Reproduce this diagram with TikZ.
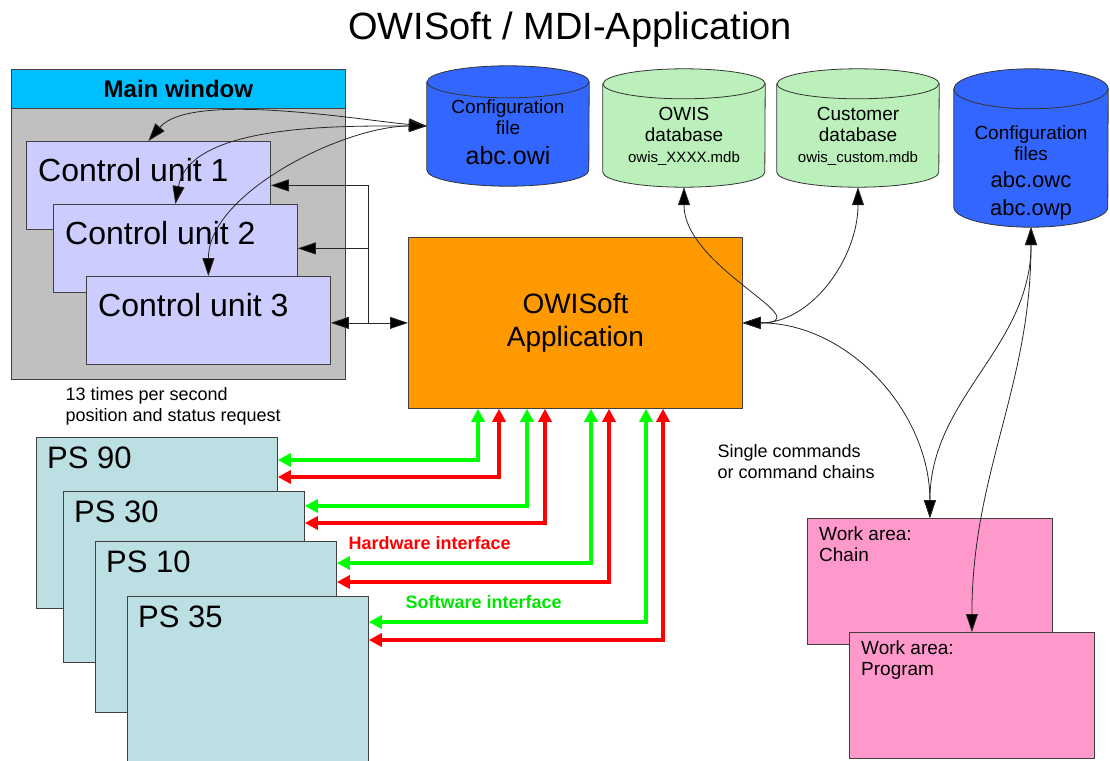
\documentclass[tikz,border=0pt]{standalone}
\usepackage{fontspec}
\setmainfont{Liberation Sans}
\usetikzlibrary{arrows.meta}

\definecolor{headcyan}{RGB}{0,191,255}
\definecolor{mwgray}{RGB}{192,192,192}
\definecolor{unitblue}{RGB}{204,204,255}
\definecolor{drumblue}{RGB}{51,102,255}
\definecolor{drumgreen}{RGB}{187,240,187}
\definecolor{apporange}{RGB}{255,153,0}
\definecolor{psteal}{RGB}{187,223,227}
\definecolor{workpink}{RGB}{255,153,204}
\definecolor{swgreen}{RGB}{0,255,0}
\definecolor{hwred}{RGB}{255,0,0}

\tikzset{
  box/.style={draw=black!75, line width=0.8pt, anchor=north west, inner sep=0pt},
  unit/.style={box, fill=unitblue, minimum width=244, minimum height=88},
  ps/.style={box, fill=psteal, minimum width=241, minimum height=171},
  work/.style={box, fill=workpink, minimum width=245, minimum height=126},
  tl/.style={anchor=north west, inner sep=0pt, align=left},
  drum/.style={inner sep=0pt},
  dbtext/.style={align=center, inner sep=0pt, font=\fontsize{19}{21}\selectfont},
  link/.style={black!85, line width=0.8pt, {Triangle[length=18pt,width=12pt,fill=black]}-{Triangle[length=18pt,width=12pt,fill=black]}},
  feed/.style={black!85, line width=0.8pt, -{Triangle[length=18pt,width=12pt,fill=black]}},
  sw/.style={swgreen, line width=4pt, {Triangle[length=13pt,width=13pt]}-{Triangle[length=13pt,width=13pt]}},
  hw/.style={hwred, line width=4pt, {Triangle[length=13pt,width=13pt]}-{Triangle[length=13pt,width=13pt]}}
}

% cylinder round an empty node: name, x radius, y radius, fill
\newcommand\drum[4]{%
  \filldraw[draw=black!80, line width=0.8pt, fill=#4] ([yshift=-#3]#1.north west) -- ([yshift=#3]#1.south west)
    arc[start angle=180, end angle=360, x radius=#2, y radius=#3]
    -- ([yshift=-#3]#1.north east)
    arc[start angle=0, end angle=180, x radius=#2, y radius=#3] -- cycle;
  \draw[black!80, line width=0.8pt] ([yshift=-#3]#1.north west)
    arc[start angle=180, end angle=360, x radius=#2, y radius=#3];
}

\begin{document}
\begin{tikzpicture}[x=1pt, y=-1pt]
  \useasboundingbox (0,0) rectangle (1110,760);

  \node (title) [font=\fontsize{38}{42}\selectfont] at (570,30) {OWISoft / MDI-Application};

  % main window
  \node (mw) [box, fill=mwgray, minimum width=334, minimum height=310] at (11,69) {};
  \node (mwhead) [box, fill=headcyan, minimum width=334, minimum height=39,
    font=\bfseries\fontsize{24}{28}\selectfont] at (11,69) {Main window};
  \node (cu1) [unit, label={[tl, xshift=12pt, yshift=-17pt, font=\fontsize{32}{36}\selectfont]north west:Control unit 1}] at (26,141) {};
  \node (cu2) [unit, label={[tl, xshift=12pt, yshift=-17pt, font=\fontsize{32}{36}\selectfont]north west:Control unit 2}] at (53,204) {};
  \node (cu3) [unit, label={[tl, xshift=12pt, yshift=-17pt, font=\fontsize{32}{36}\selectfont]north west:Control unit 3}] at (86,276) {};

  % files and databases
  \node (cfg) [drum, minimum width=162, minimum height=120] at (508,126) {};
  \drum{cfg}{81pt}{16pt}{drumblue}
  \node (cfg-text) [dbtext] at ([yshift=-6pt]cfg.center) {Configuration\\file\\[9pt]{\fontsize{25}{28}\selectfont abc.owi}};
  \node (owis) [drum, minimum width=162, minimum height=118] at (684,128) {};
  \drum{owis}{81pt}{15pt}{drumgreen}
  \node (owis-text) [dbtext] at ([yshift=-8pt]owis.center) {OWIS\\database\\{\fontsize{15}{17}\selectfont owis\_XXXX.mdb}};
  \node (cust) [drum, minimum width=162, minimum height=118] at (858,128) {};
  \drum{cust}{81pt}{15pt}{drumgreen}
  \node (cust-text) [dbtext] at ([yshift=-8pt]cust.center) {Customer\\database\\{\fontsize{15}{17}\selectfont owis\_custom.mdb}};
  \node (cfgs) [drum, minimum width=154, minimum height=158] at (1031,148) {};
  \drum{cfgs}{77pt}{20pt}{drumblue}
  \node (cfgs-text) [dbtext] at ([yshift=-25pt]cfgs.center) {Configuration\\files\\[6pt]{\fontsize{22}{28}\selectfont abc.owc}\\[7pt]{\fontsize{22}{28}\selectfont abc.owp}};

  \node (app) [box, fill=apporange, minimum width=334, minimum height=171, align=center,
    font=\fontsize{28}{33}\selectfont] at (408,237) {OWISoft\\Application};

  % positioning systems
  \node (ps90) [ps, label={[tl, xshift=11pt, yshift=-10pt, font=\fontsize{31}{35}\selectfont]north west:PS 90}] at (36,437) {};
  \node (ps30) [ps, label={[tl, xshift=11pt, yshift=-10pt, font=\fontsize{31}{35}\selectfont]north west:PS 30}] at (63,491) {};
  \node (ps10) [ps, label={[tl, xshift=11pt, yshift=-10pt, font=\fontsize{31}{35}\selectfont]north west:PS 10}] at (95,541) {};
  \node (ps35) [ps, label={[tl, xshift=11pt, yshift=-10pt, font=\fontsize{31}{35}\selectfont]north west:PS 35}] at (127,596) {};

  % work areas
  \node (chain) [work, label={[tl, xshift=12pt, yshift=-9pt, font=\fontsize{19}{21}\selectfont]north west:Work area:\\Chain}] at (807,518) {};
  \node (prog) [work, label={[tl, xshift=12pt, yshift=-9pt, font=\fontsize{19}{21}\selectfont]north west:Work area:\\Program}] at (849,632) {};

  \node (rate) [anchor=west, align=left, font=\fontsize{18}{21}\selectfont] at (62,406) {13 times per second\\position and status request};
  \node (cmds) [anchor=west, align=left, font=\fontsize{18}{21}\selectfont] at (714,462) {Single commands\\or command chains};
  \node (hwlabel) [anchor=west, text=hwred, font=\bfseries\fontsize{18}{21}\selectfont] at (345,543) {Hardware interface};
  \node (swlabel) [anchor=west, text=swgreen!90!black, font=\bfseries\fontsize{18}{21}\selectfont] at (402,602) {Software interface};

  % connectors
  \draw[link] (cfg.west) to[out=175, in=50, looseness=0.6] (cu1.north);
  \draw[link] (cfg.west) to[out=180, in=80, looseness=0.8] (cu2.north);
  \draw[link] (cfg.west) to[out=180, in=90, looseness=0.8] (cu3.north);

  \coordinate (bus) at ([xshift=-40pt]app.west);
  \draw[link] (app.west -| cu3.east) -- (app.west);
  \draw[feed] (bus) |- (cu1.east);
  \draw[feed] (bus |- cu2.east) -- (cu2.east);

  \draw[link] (app.east) to[out=0, in=-90, looseness=1.4] (owis.south);
  \draw[link] (app.east) to[out=0, in=-90] (cust.south);
  \draw[link] (app.east) to[out=0, in=90] (chain.north);
  \draw[link] (cfgs.south) to[out=-90, in=90] (chain.north);
  \draw[link] (cfgs.south) to[out=-90, in=90] (prog.north);

  \foreach \p/\gx/\gy/\rx/\ry in {ps90/478/460/499/477, ps30/527/506/545/523,
                                  ps10/591/563/609/582, ps35/646/622/663/640} {
    \draw[sw] (app.south -| \gx,0) |- (\p.east |- 0,\gy);
    \draw[hw] (app.south -| \rx,0) |- (\p.east |- 0,\ry);
  }
\end{tikzpicture}
\end{document}
